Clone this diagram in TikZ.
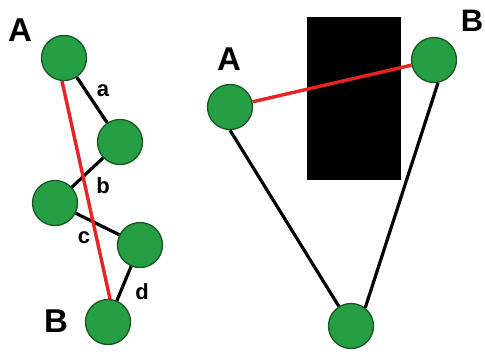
\documentclass[tikz,border=0pt]{standalone}
\usepackage{fontspec}
\setmainfont{Liberation Sans}
\definecolor{ballgreen}{RGB}{38,158,68}
\definecolor{balledge}{RGB}{25,85,35}
\definecolor{linkred}{RGB}{232,35,35}
\begin{document}
\begin{tikzpicture}[x=1pt,y=-1pt,
  ball/.style={circle,fill=ballgreen,draw=balledge,line width=1.3pt,minimum size=45pt,inner sep=0pt},
  link/.style={line width=3.2pt,black},
  redlink/.style={line width=3.4pt,linkred},
  biglabel/.style={font=\bfseries\fontsize{33}{33}\selectfont,inner sep=0pt},
  midlabel/.style={font=\bfseries\fontsize{31}{31}\selectfont,inner sep=0pt},
  smalllabel/.style={font=\bfseries\fontsize{22}{22}\selectfont,inner sep=0pt}]
\useasboundingbox (0,0) rectangle (485,356);
\fill[white] (0,0) rectangle (485,356);
% left chain
\node[ball] (A1) at (64,58) {};
\node[ball] (N2) at (120,142) {};
\node[ball] (N3) at (55,203) {};
\node[ball] (N4) at (140,245) {};
\node[ball] (B1) at (108,322) {};
% right
\fill[black] (307,17) rectangle (401,180);
\node[ball] (A2) at (230,107) {};
\node[ball] (B2) at (434,60) {};
\node[ball] (C2) at (351,326) {};
% connectors
\draw[link] (A1) -- (N2);
\draw[link] (N2) -- (N3);
\draw[link] (N3) -- (N4);
\draw[link] (N4) -- (B1);
\draw[redlink] (A1.-95) -- (B1.85);
\draw[link] (A2.south) -- (C2);
\draw[link] (B2.-80) -- (C2.52);
\draw[redlink] (A2) -- (B2);
% labels
\node[biglabel] (LA1) at (20,30) {A};
\node[biglabel] (LB1) at (56,321) {B};
\node[biglabel] (LA2) at (229,59) {A};
\node[midlabel] (LB2) at (472,21) {B};
\node[smalllabel] (la) at (103,91) {a};
\node[smalllabel] (lb) at (103,186) {b};
\node[smalllabel] (lc) at (84,238) {c};
\node[smalllabel] (ld) at (142,292) {d};
\end{tikzpicture}
\end{document}
